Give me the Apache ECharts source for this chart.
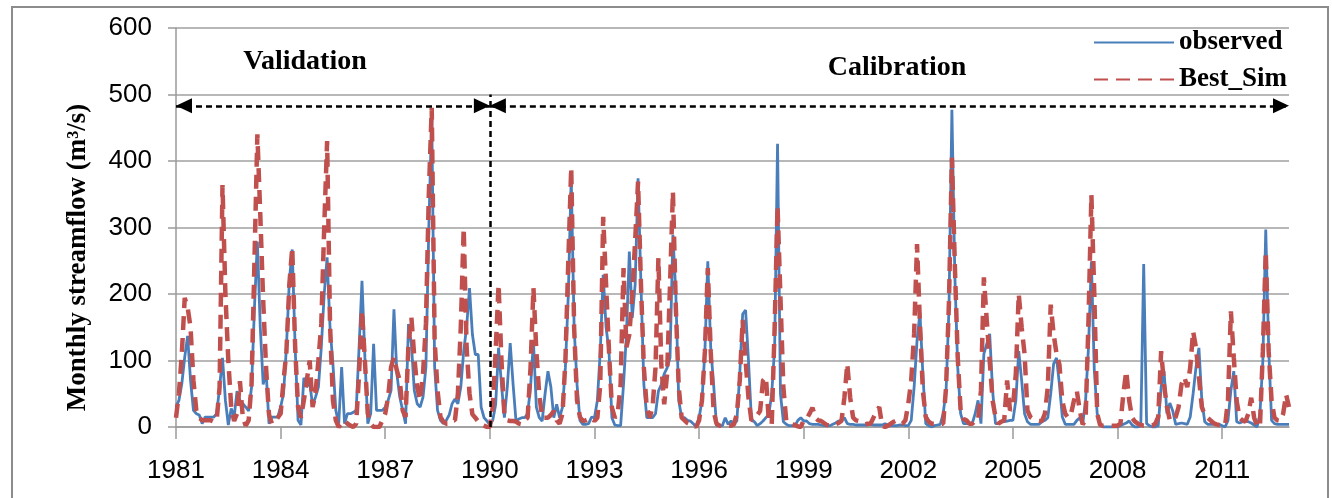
<!DOCTYPE html>
<html>
<head>
    <meta charset="UTF-8">
    <title>Monthly streamflow</title>
    <script src="https://cdn.jsdelivr.net/npm/echarts@6/dist/echarts.min.js"></script>
    <style>
        html, body { margin: 0; padding: 0; background: #fff; }
        #chart { width: 1332px; height: 498px; }
    </style>
</head>
<body>
<div id="chart"></div>
<script type="text/javascript">
    // monthly values, Jan 1981 .. Dec 2012 (one row per year)
    var startYear = 1981;
    var endYear = 2012;

    var observed = [
        30, 40, 65, 105, 137, 70, 25, 20, 18, 5, 15, 15,        // 1981
        15, 15, 20, 60, 104, 40, 3, 28, 15, 54, 40, 35,         // 1982
        30, 24, 60, 180, 279, 150, 64, 84, 5, 15, 15, 15,       // 1983
        30, 50, 120, 220, 267, 120, 10, 3, 74, 60, 68, 32,      // 1984
        45, 60, 120, 200, 255, 150, 95, 25, 5, 90, 5, 20,       // 1985
        20, 22, 25, 120, 220, 105, 5, 20, 125, 25, 25, 25,      // 1986
        30, 40, 55, 177, 80, 45, 25, 5, 155, 125, 55, 35,       // 1987
        30, 45, 90, 300, 470, 90, 25, 10, 5, 10, 18, 35,        // 1988
        42, 35, 60, 114, 150, 209, 139, 109, 109, 30, 14, 9,    // 1989
        3, 10, 34, 119, 64, 14, 60, 126, 64, 9, 12, 14,         // 1990
        14, 20, 60, 129, 30, 14, 9, 50, 84, 60, 14, 34,         // 1991
        14, 30, 90, 200, 376, 150, 64, 10, 4, 4, 5, 15,         // 1992
        14, 40, 114, 229, 150, 114, 14, 3, 2, 2, 64, 139,       // 1993
        264, 164, 214, 374, 214, 64, 14, 14, 14, 20, 54, 64,    // 1994
        80, 89, 104, 289, 200, 40, 14, 14, 10, 9, 5, 0,         // 1995
        14, 40, 114, 249, 120, 64, 2, 2, 2, 14, 4, 9,           // 1996
        5, 9, 80, 170, 176, 100, 12, 8, 2, 5, 9, 14,            // 1997
        19, 50, 120, 426, 50, 8, 4, 2, 2, 2, 10, 14,            // 1998
        9, 9, 5, 4, 4, 4, 3, 2, 2, 2, 4, 6,                     // 1999
        9, 10, 14, 5, 4, 4, 3, 3, 3, 3, 3, 4,                   // 2000
        3, 3, 3, 3, 5, 3, 2, 2, 2, 3, 3, 2,                     // 2001
        2, 10, 60, 130, 172, 80, 5, 2, 0, 2, 3, 4,              // 2002
        20, 55, 180, 477, 230, 90, 20, 5, 5, 5, 5, 20,          // 2003
        40, 5, 110, 125, 140, 55, 5, 5, 8, 8, 9, 10,            // 2004
        10, 40, 114, 70, 20, 8, 4, 4, 4, 4, 8, 10,              // 2005
        14, 50, 95, 104, 64, 15, 4, 4, 4, 4, 10, 14,            // 2006
        4, 40, 120, 249, 85, 20, 5, 0, 0, 0, 0, 0,              // 2007
        0, 2, 4, 6, 9, 3, 0, 0, 2, 245, 5, 2,                   // 2008
        0, 0, 2, 60, 84, 20, 36, 24, 4, 5, 6, 5,                // 2009
        4, 15, 50, 90, 119, 40, 8, 4, 4, 4, 4, 4,               // 2010
        2, 0, 10, 55, 84, 8, 6, 8, 9, 8, 6, 3,                  // 2011
        0, 20, 100, 297, 120, 10, 5, 4, 4, 4, 4, 4              // 2012
    ];

    var bestSim = [
        14, 50, 110, 194, 180, 150, 70, 25, 14, 10, 10, 10,     // 1981
        10, 8, 10, 60, 364, 200, 100, 30, 9, 20, 69, 14,        // 1982
        2, 10, 64, 250, 440, 320, 190, 89, 19, 5, 8, 14,        // 1983
        20, 69, 114, 214, 270, 120, 30, 14, 40, 70, 100, 30,    // 1984
        50, 100, 155, 300, 430, 155, 40, 10, 0, 5, 10, 5,       // 1985
        2, 0, 5, 80, 175, 100, 20, 5, 0, 0, 0, 10,              // 1986
        20, 45, 90, 105, 85, 70, 25, 15, 125, 165, 105, 60,     // 1987
        40, 80, 155, 350, 480, 130, 55, 15, 8, 5, 5, 10,        // 1988
        10, 50, 150, 299, 120, 50, 19, 14, 8, 4, 2, 0,          // 1989
        0, 30, 114, 214, 100, 19, 10, 9, 9, 8, 5, 4,            // 1990
        10, 14, 89, 209, 114, 49, 14, 14, 14, 18, 24, 10,       // 1991
        5, 20, 100, 250, 390, 150, 40, 15, 9, 10, 12, 14,       // 1992
        9, 14, 64, 316, 214, 114, 29, 14, 20, 64, 239, 120,     // 1993
        139, 200, 280, 369, 214, 89, 29, 14, 30, 89, 254, 94,   // 1994
        34, 80, 214, 354, 180, 60, 14, 10, 6, 4, 3, 0,          // 1995
        10, 40, 114, 239, 114, 24, 5, 2, 2, 2, 2, 2,            // 1996
        4, 20, 70, 161, 100, 44, 10, 12, 18, 24, 70, 75,        // 1997
        9, 4, 150, 332, 195, 60, 9, 6, 4, 3, 1, 0,              // 1998
        10, 12, 20, 29, 14, 10, 9, 6, 3, 2, 2, 4,               // 1999
        6, 9, 44, 95, 44, 14, 10, 9, 6, 4, 5, 5,                // 2000
        14, 24, 30, 2, 0, 2, 5, 8, 10, 8, 5, 10,                // 2001
        35, 70, 140, 275, 155, 55, 15, 8, 5, 5, 5, 5,           // 2002
        5, 60, 190, 405, 245, 105, 25, 12, 10, 5, 5, 10,        // 2003
        10, 55, 225, 160, 100, 40, 15, 5, 8, 10, 70, 25,        // 2004
        30, 80, 200, 150, 110, 25, 15, 12, 10, 9, 9, 20,        // 2005
        60, 184, 140, 110, 94, 39, 20, 14, 20, 40, 54, 25,      // 2006
        4, 10, 160, 349, 200, 20, 3, 2, 2, 2, 2, 2,             // 2007
        2, 5, 50, 84, 40, 14, 8, 5, 3, 2, 2, 2,                 // 2008
        2, 5, 15, 114, 64, 30, 10, 9, 15, 30, 64, 75,           // 2009
        60, 89, 144, 119, 75, 30, 18, 14, 10, 6, 4, 3,          // 2010
        3, 2, 40, 174, 105, 39, 14, 10, 8, 20, 44, 14,          // 2011
        2, 0, 114, 264, 114, 40, 14, 10, 9, 20, 49, 30          // 2012
    ];

    // period split: validation 1981-1989, calibration 1990-2012
    var periodStart = '1981-01';
    var periodSplit = '1990-01';
    var periodEnd = '2012-12';
    var arrowLevel = 483;
    var splitTop = 500;

    var months = [];
    for (var y = startYear; y <= endYear; y++) {
        for (var m = 1; m <= 12; m++) {
            months.push(y + '-' + (m < 10 ? '0' + m : m));
        }
    }

    var tickFont = '"Liberation Sans", Arial, sans-serif';
    var serifFont = '"Liberation Serif", "DejaVu Serif", serif';

    var chart = echarts.init(document.getElementById('chart'));

    var dashBlack = { color: '#000', type: [6, 4], width: 2.5 };

    // arrow end: the head is pulled back so its tip sits on the point
    function arrowEnd(x) { return { coord: [x, arrowLevel], symbolOffset: [0, 8] }; }

    var option = {
        animation: false,
        backgroundColor: '#fff',
        grid: { left: 176, right: 43, top: 28, bottom: 71 },
        legend: {
            orient: 'vertical',
            left: 1088,
            top: 24,
            itemWidth: 80,
            itemHeight: 14,
            itemGap: 10,
            itemStyle: { opacity: 0 },
            textStyle: { fontFamily: serifFont, fontWeight: 'bold', fontSize: 27, color: '#000' },
            data: ['observed', 'Best_Sim']
        },
        xAxis: {
            type: 'category',
            data: months,
            boundaryGap: false,
            axisLine: { lineStyle: { color: '#9a9a9a', width: 1.5 } },
            axisTick: { interval: 35, length: 12, lineStyle: { color: '#9a9a9a', width: 1.5 } },
            axisLabel: {
                interval: 35,
                margin: 31,
                fontFamily: tickFont,
                fontSize: 26,
                color: '#000',
                formatter: function (v) { return v.slice(0, 4); }
            },
            splitLine: { show: false }
        },
        yAxis: {
            type: 'value',
            min: 0,
            max: 600,
            interval: 100,
            name: 'Monthly streamflow (m³/s)',
            nameLocation: 'middle',
            nameGap: 84,
            nameRotate: 90,
            nameTextStyle: {
                fontFamily: serifFont, fontWeight: 'bold', fontSize: 27, color: '#000',
                padding: [0, 60, 0, 0]
            },
            axisLine: { show: true, lineStyle: { color: '#9a9a9a', width: 1.5 } },
            axisTick: { show: true, length: 8, lineStyle: { color: '#9a9a9a', width: 1.5 } },
            axisLabel: { margin: 24, fontFamily: tickFont, fontSize: 26, color: '#000' },
            splitLine: { lineStyle: { color: '#a0a0a0', width: 1.5 } }
        },
        series: [
            {
                name: 'observed',
                type: 'line',
                data: observed,
                symbol: 'none',
                lineStyle: { color: '#4a7ebb', width: 2.8 },
                itemStyle: { color: '#4a7ebb' },
                z: 2
            },
            {
                name: 'Best_Sim',
                type: 'line',
                data: bestSim,
                symbol: 'none',
                lineStyle: { color: '#c0504d', width: 4.5, type: [14, 8] },
                itemStyle: { color: '#c0504d' },
                z: 3,
                markLine: {
                    silent: true,
                    animation: false,
                    symbol: ['triangle', 'triangle'],
                    symbolSize: [15, 16],
                    label: { show: false },
                    lineStyle: dashBlack,
                    data: [
                        [arrowEnd(periodStart), arrowEnd(periodSplit)],
                        [arrowEnd(periodSplit), arrowEnd(periodEnd)],
                        [
                            { coord: [periodSplit, 0], symbol: 'none' },
                            { coord: [periodSplit, splitTop], symbol: 'none' }
                        ]
                    ]
                }
            }
        ],
        graphic: [
            {
                type: 'rect',
                shape: { x: 12, y: 7, width: 1316, height: 500 },
                style: { fill: 'none', stroke: '#8c8c8c', lineWidth: 2 },
                silent: true
            },
            {
                type: 'text',
                x: 305,
                y: 62,
                style: { text: 'Validation', font: 'bold 28px ' + serifFont, fill: '#000', align: 'center', verticalAlign: 'middle' }
            },
            {
                type: 'text',
                x: 897,
                y: 68,
                style: { text: 'Calibration', font: 'bold 28px ' + serifFont, fill: '#000', align: 'center', verticalAlign: 'middle' }
            }
        ]
    };

    chart.setOption(option);
</script>
</body>
</html>
